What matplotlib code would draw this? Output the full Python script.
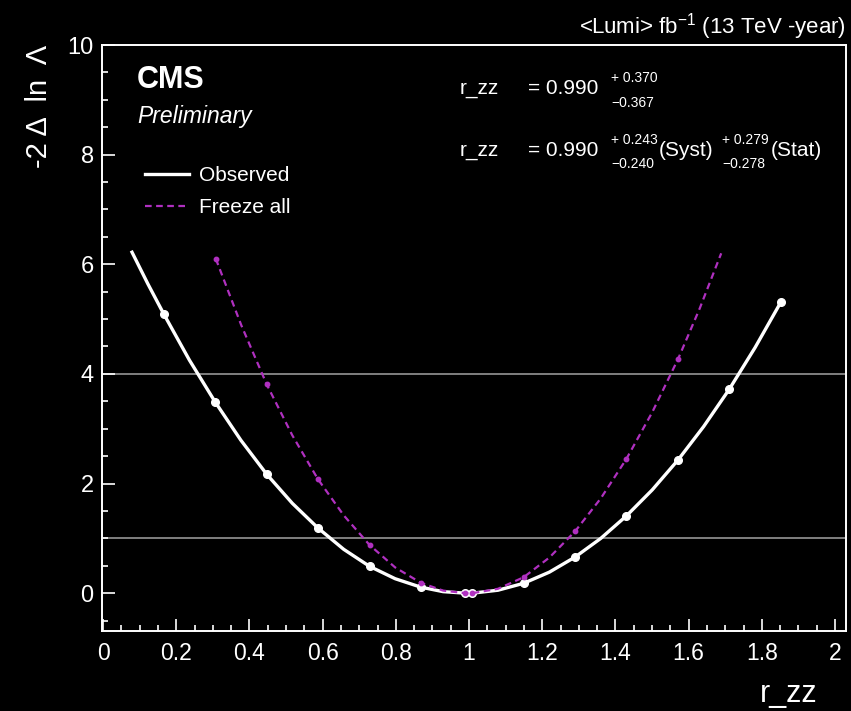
import matplotlib
matplotlib.use("Agg")
import matplotlib.pyplot as plt
from matplotlib.ticker import MultipleLocator
from matplotlib.lines import Line2D

plt.rcParams['font.family'] = ['Liberation Sans', 'DejaVu Sans']
plt.rcParams['mathtext.fontset'] = 'custom'
plt.rcParams['mathtext.rm'] = 'Liberation Sans'

# Observed likelihood scan: scan points (drawn as dots)
obs_pts_x = [0.166, 0.306, 0.447, 0.587, 0.728, 0.868, 0.990, 1.009,
             1.149, 1.290, 1.430, 1.571, 1.711, 1.852]
obs_pts_y = [5.09, 3.49, 2.17, 1.19, 0.49, 0.11, 0.0, 0.0,
             0.18, 0.66, 1.41, 2.43, 3.72, 5.31]
# Observed smooth curve
obs_curve_x = [0.079, 0.1225, 0.166, 0.236, 0.306, 0.3765, 0.447, 0.517,
               0.587, 0.6575, 0.728, 0.798, 0.868, 0.929, 0.990, 1.009,
               1.079, 1.149, 1.2195, 1.290, 1.360, 1.430, 1.5005, 1.571,
               1.641, 1.711, 1.7815, 1.852]
obs_curve_y = [6.22, 5.64, 5.09, 4.25, 3.49, 2.79, 2.17, 1.64,
               1.19, 0.80, 0.49, 0.264, 0.11, 0.028, 0.0, 0.0,
               0.054, 0.18, 0.384, 0.66, 1.00, 1.41, 1.884, 2.43,
               3.04, 3.72, 4.48, 5.31]

# Scan with all nuisances frozen
frz_pts_x = [0.308, 0.447, 0.587, 0.728, 0.868, 0.990, 1.009, 1.149,
             1.290, 1.430, 1.571]
frz_pts_y = [6.10, 3.81, 2.08, 0.88, 0.19, 0.0, 0.0, 0.29,
             1.13, 2.45, 4.27]
frz_curve_x = [0.308, 0.3775, 0.447, 0.517, 0.587, 0.6575, 0.728, 0.798,
               0.868, 0.929, 0.990, 1.009, 1.079, 1.149, 1.2195, 1.290,
               1.360, 1.430, 1.5005, 1.571, 1.630, 1.689]
frz_curve_y = [6.10, 4.89, 3.81, 2.88, 2.08, 1.42, 0.88, 0.47,
               0.19, 0.047, 0.0, 0.0, 0.08, 0.29, 0.65, 1.13,
               1.73, 2.45, 3.30, 4.27, 5.19, 6.20]

# 1 and 2 sigma reference levels
ref_levels = [1.0, 4.0]

W, H = 851, 711
magenta = '#b030c0'


def fx(px):
    return px / W


def fy(py):
    return 1 - py / H


fig = plt.figure(figsize=(W / 100, H / 100), dpi=100, facecolor='black')
ax = fig.add_axes([fx(102), fy(631), fx(846) - fx(102), fy(45) - fy(631)])
ax.set_facecolor('black')

for lvl in ref_levels:
    ax.axhline(lvl, color='#8a8a8a', linewidth=1.3, zorder=1)

ax.plot(obs_curve_x, obs_curve_y, color='white', linewidth=2.4, zorder=3,
        solid_joinstyle='round')
ax.plot(obs_pts_x, obs_pts_y, 'o', color='white', markersize=5.5, zorder=4)

ax.plot(frz_curve_x, frz_curve_y, color=magenta, linewidth=1.6,
        dashes=(3, 2), zorder=5)
ax.plot(frz_pts_x, frz_pts_y, 'o', color=magenta, markersize=3.2, zorder=5)

ax.set_xlim(-0.003, 2.03)
ax.set_ylim(-0.69, 10)

ax.xaxis.set_major_locator(MultipleLocator(0.2))
ax.xaxis.set_minor_locator(MultipleLocator(0.05))
ax.yaxis.set_major_locator(MultipleLocator(2))
ax.yaxis.set_minor_locator(MultipleLocator(0.5))
ax.xaxis.set_major_formatter(plt.FuncFormatter(lambda v, p: f"{v:g}"))

for s in ax.spines.values():
    s.set_color('white')
    s.set_linewidth(1.4)

ax.tick_params(which='both', direction='in', colors='white', width=1.2,
               top=False, right=False)
ax.tick_params(which='major', length=9)
ax.tick_params(which='minor', length=4.5)
ax.tick_params(axis='x', labelsize=16.5, pad=8)
ax.tick_params(axis='y', labelsize=17, pad=6)

# Axis titles
fig.text(fx(39), fy(45), '-2 Δ  ln  Λ', color='white', fontsize=21,
         rotation=90, ha='center', va='top')
fig.text(fx(818), fy(702), 'r_zz', color='white', fontsize=22,
         ha='right', va='baseline')

# Header
fig.text(fx(846), fy(34), r'<Lumi> fb$^{-1}$ (13 TeV -year)',
         color='white', fontsize=16, ha='right', va='baseline')
fig.text(fx(137), fy(88), 'CMS', color='white', fontsize=22,
         fontweight='bold', ha='left', va='baseline')
fig.text(fx(137), fy(123), 'Preliminary', color='white', fontsize=16.5,
         style='italic', ha='left', va='baseline')

# Legend
handles = [Line2D([], [], color='white', linewidth=2.4),
           Line2D([], [], color=magenta, linewidth=1.6, dashes=(3, 2))]
fig.legend(handles, ['Observed', 'Freeze all'], loc='upper left',
           bbox_to_anchor=(fx(145), fy(166)), frameon=False, fontsize=15,
           labelcolor='white', handlelength=2.1, handletextpad=0.5,
           labelspacing=0.62, borderpad=0, borderaxespad=0)

# Fit result
main_fs, scr_fs = 15, 10
for yb in [94, 156]:
    fig.text(fx(460), fy(yb), 'r_zz', color='white', fontsize=main_fs,
             va='baseline')
    fig.text(fx(528), fy(yb), '= 0.990', color='white', fontsize=main_fs,
             va='baseline')

fig.text(fx(611), fy(82), '+ 0.370', color='white', fontsize=scr_fs, va='baseline')
fig.text(fx(611), fy(107), '−0.367', color='white', fontsize=scr_fs, va='baseline')

fig.text(fx(611), fy(144), '+ 0.243', color='white', fontsize=scr_fs, va='baseline')
fig.text(fx(611), fy(168), '−0.240', color='white', fontsize=scr_fs, va='baseline')
fig.text(fx(659), fy(156), '(Syst)', color='white', fontsize=main_fs, va='baseline')
fig.text(fx(722), fy(144), '+ 0.279', color='white', fontsize=scr_fs, va='baseline')
fig.text(fx(722), fy(168), '−0.278', color='white', fontsize=scr_fs, va='baseline')
fig.text(fx(771), fy(156), '(Stat)', color='white', fontsize=main_fs, va='baseline')

fig.savefig('out.png', dpi=100, facecolor='black')
